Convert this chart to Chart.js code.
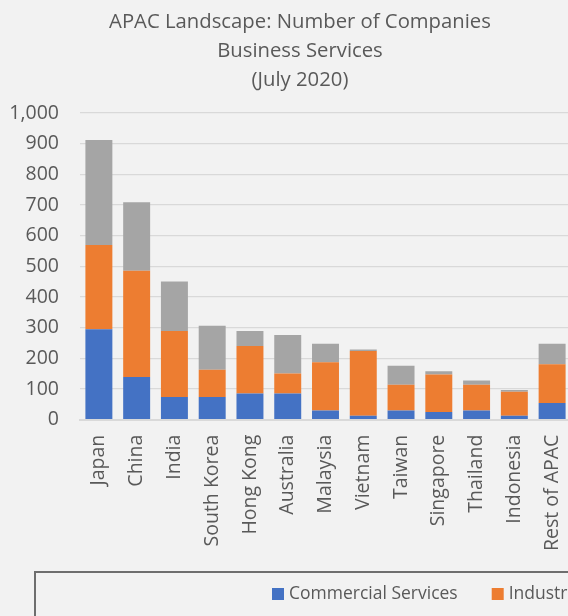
<!DOCTYPE html>
<html>
<head>
<meta charset="utf-8">
<script src="https://cdn.jsdelivr.net/npm/chart.js@4/dist/chart.umd.min.js"></script>
<style>
  html, body { margin: 0; padding: 0; background: #F2F2F2; overflow: hidden; }
  #wrap { position: relative; width: 600px; height: 616px; }
</style>
</head>
<body>
<div id="wrap"><canvas id="c" width="600" height="616"></canvas></div>
<script>
const titleLines = ["APAC Landscape: Number of Companies", "Business Services", "(July 2020)"];
const categories = ["Japan", "China", "India", "South Korea", "Hong Kong", "Australia", "Malaysia", "Vietnam", "Taiwan", "Singapore", "Thailand", "Indonesia", "Rest of APAC"];
const seriesNames = ["Commercial Services", "Industrial Services", "Other Business Services"];
const commercial = [295, 139, 74, 74, 85, 85, 30, 13, 30, 25, 30, 13, 54];
const industrial = [275, 347, 215, 89, 155, 66, 157, 211, 84, 122, 84, 78, 127];
const other = [342, 223, 162, 143, 49, 125, 61, 5, 62, 11, 14, 6, 67];
const yTicks = [0, 100, 200, 300, 400, 500, 600, 700, 800, 900, 1000];
const colors = ["#4472C4", "#ED7D31", "#A5A5A5"];

const FONT = "'Open Sans', 'Noto Sans', sans-serif";
const TEXT = "#595959";

// let y-axis labels extend left of the (narrow) axis box without being clipped
const unclipY = {
  id: 'unclipY',
  afterLayout(chart) {
    chart.scales.y.left = 0;
  }
};

const boxedLegend = {
  id: 'boxedLegend',
  afterDraw(chart) {
    const ctx = chart.ctx;
    ctx.save();
    ctx.strokeStyle = "#6E6E6E";
    ctx.lineWidth = 2;
    ctx.strokeRect(35, 572, 700, 100);
    ctx.font = "17.5px " + FONT;
    ctx.textBaseline = "middle";
    let x = 272;
    const y = 594;
    chart.data.datasets.forEach((ds) => {
      ctx.fillStyle = ds.backgroundColor;
      ctx.fillRect(x, y - 6, 12, 12);
      ctx.fillStyle = TEXT;
      ctx.fillText(ds.label, x + 17, y);
      x += 17 + ctx.measureText(ds.label).width + 34;
    });
    ctx.restore();
  }
};

new Chart(document.getElementById('c'), {
  type: 'bar',
  data: {
    labels: categories,
    datasets: [
      { label: seriesNames[0], data: commercial, backgroundColor: colors[0] },
      { label: seriesNames[1], data: industrial, backgroundColor: colors[1] },
      { label: seriesNames[2], data: other, backgroundColor: colors[2] }
    ]
  },
  options: {
    responsive: false,
    animation: false,
    devicePixelRatio: 1,
    layout: { padding: { left: 29, right: 29, top: 8, bottom: 50 } },
    datasets: { bar: { barPercentage: 0.714, categoryPercentage: 1, borderWidth: 0 } },
    plugins: {
      legend: { display: false },
      tooltip: { enabled: false },
      title: {
        display: true,
        text: titleLines,
        color: TEXT,
        font: { family: FONT, size: 20.3, weight: 'normal', lineHeight: 1.43 },
        padding: { top: 0, bottom: 18 }
      }
    },
    scales: {
      x: {
        stacked: true,
        grid: { display: false, drawTicks: false },
        border: { display: true, color: "#D9D9D9", width: 2 },
        ticks: {
          color: TEXT,
          font: { family: FONT, size: 19.5 },
          minRotation: 90, maxRotation: 90,
          autoSkip: false,
          padding: 15
        }
      },
      y: {
        stacked: true,
        min: 0, max: 1000,
        afterBuildTicks(scale) { scale.ticks = yTicks.map(v => ({ value: v })); },
        afterFit(scale) { scale.width = 51; },
        grid: { color: "#D9D9D9", lineWidth: 1.3, drawTicks: false },
        border: { display: false },
        ticks: {
          color: TEXT,
          font: { family: FONT, size: 19.5 },
          padding: 21,
          callback: (v) => v.toLocaleString('en-US')
        }
      }
    }
  },
  plugins: [unclipY, boxedLegend]
});
</script>
</body>
</html>
